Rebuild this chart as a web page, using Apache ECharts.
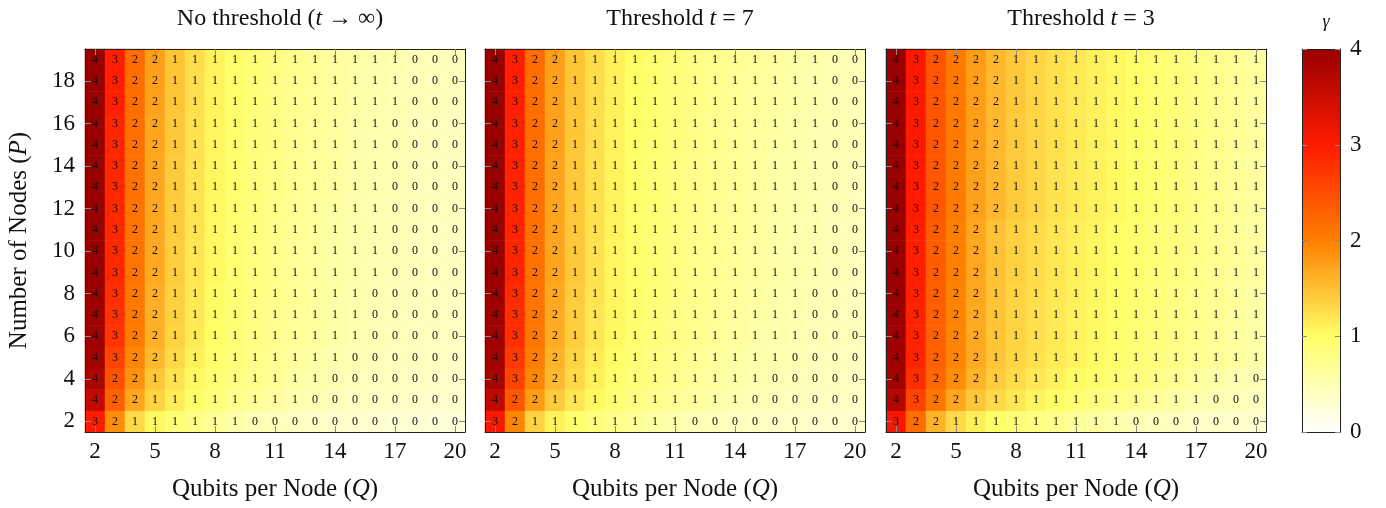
<!DOCTYPE html>
<html>
<head>
<meta charset="utf-8">
<script src="https://cdn.jsdelivr.net/npm/echarts@6/dist/echarts.min.js"></script>
<style>
    html, body { margin: 0; padding: 0; background: #fff; }
    #chart { width: 1386px; height: 508px; }
</style>
</head>
<body>
<div id="chart"></div>
<script>
// axes
const qubits = ['2','3','4','5','6','7','8','9','10','11','12','13','14','15','16','17','18','19','20']
const nodes = ['2','3','4','5','6','7','8','9','10','11','12','13','14','15','16','17','18','19']
const gammaTicks = [0, 1, 2, 3, 4]
const panelTitles = ['No threshold ({i|t} → ∞)', 'Threshold {i|t} = 7', 'Threshold {i|t} = 3']

// gamma per cell, rows from P = 2 (bottom) to P = 19 (top), columns Q = 2..20
const noThreshold = [
    [3.0, 1.9, 1.3, 1.05, 0.9, 0.78, 0.67, 0.56, 0.48, 0.44, 0.4, 0.37, 0.34, 0.32, 0.3, 0.28, 0.27, 0.26, 0.25],
    [3.6, 2.3, 1.7, 1.35, 1.14, 0.98, 0.86, 0.76, 0.68, 0.61, 0.54, 0.49, 0.45, 0.42, 0.4, 0.38, 0.36, 0.34, 0.33],
    [3.8, 2.45, 1.85, 1.45, 1.22, 1.05, 0.92, 0.82, 0.74, 0.67, 0.6, 0.54, 0.49, 0.46, 0.43, 0.41, 0.39, 0.37, 0.35],
    [3.9, 2.6, 1.95, 1.55, 1.3, 1.11, 0.97, 0.86, 0.77, 0.7, 0.64, 0.59, 0.53, 0.49, 0.46, 0.43, 0.41, 0.39, 0.37],
    [3.95, 2.75, 2.05, 1.62, 1.35, 1.16, 1.0, 0.89, 0.8, 0.73, 0.67, 0.62, 0.57, 0.52, 0.48, 0.45, 0.43, 0.41, 0.39],
    [3.96, 2.77, 2.07, 1.63, 1.36, 1.17, 1.01, 0.9, 0.81, 0.74, 0.68, 0.63, 0.58, 0.53, 0.48, 0.45, 0.43, 0.41, 0.39],
    [3.97, 2.79, 2.08, 1.64, 1.37, 1.18, 1.02, 0.91, 0.82, 0.75, 0.69, 0.64, 0.59, 0.54, 0.49, 0.46, 0.44, 0.42, 0.4],
    [4.0, 2.85, 2.12, 1.68, 1.4, 1.2, 1.04, 0.92, 0.83, 0.76, 0.69, 0.64, 0.59, 0.55, 0.51, 0.48, 0.45, 0.43, 0.41],
    [4.0, 2.85, 2.12, 1.68, 1.4, 1.2, 1.04, 0.92, 0.83, 0.76, 0.69, 0.64, 0.59, 0.55, 0.51, 0.48, 0.45, 0.43, 0.41],
    [4.0, 2.86, 2.13, 1.69, 1.41, 1.21, 1.05, 0.93, 0.84, 0.77, 0.7, 0.65, 0.6, 0.56, 0.51, 0.48, 0.45, 0.43, 0.41],
    [4.0, 2.86, 2.13, 1.69, 1.41, 1.21, 1.05, 0.93, 0.84, 0.77, 0.7, 0.65, 0.6, 0.56, 0.51, 0.48, 0.45, 0.43, 0.41],
    [4.0, 2.88, 2.15, 1.7, 1.42, 1.22, 1.06, 0.94, 0.85, 0.78, 0.71, 0.66, 0.61, 0.57, 0.52, 0.49, 0.46, 0.44, 0.42],
    [4.0, 2.88, 2.15, 1.7, 1.42, 1.22, 1.06, 0.94, 0.85, 0.78, 0.71, 0.66, 0.61, 0.57, 0.52, 0.49, 0.46, 0.44, 0.42],
    [4.0, 2.89, 2.16, 1.71, 1.43, 1.23, 1.07, 0.95, 0.86, 0.79, 0.72, 0.66, 0.61, 0.57, 0.52, 0.49, 0.46, 0.44, 0.42],
    [4.0, 2.89, 2.16, 1.71, 1.43, 1.23, 1.07, 0.95, 0.86, 0.79, 0.72, 0.66, 0.61, 0.57, 0.52, 0.49, 0.46, 0.44, 0.42],
    [4.0, 2.95, 2.2, 1.75, 1.46, 1.25, 1.09, 0.97, 0.88, 0.8, 0.73, 0.67, 0.63, 0.58, 0.55, 0.51, 0.48, 0.46, 0.44],
    [4.0, 2.95, 2.2, 1.75, 1.46, 1.25, 1.09, 0.97, 0.88, 0.8, 0.73, 0.67, 0.63, 0.58, 0.55, 0.51, 0.48, 0.46, 0.44],
    [4.0, 2.96, 2.21, 1.76, 1.46, 1.26, 1.1, 0.98, 0.88, 0.81, 0.74, 0.68, 0.63, 0.59, 0.55, 0.52, 0.48, 0.46, 0.44]
]

const threshold7 = [
    [3.05, 1.95, 1.35, 1.1, 0.95, 0.84, 0.75, 0.67, 0.6, 0.53, 0.48, 0.45, 0.42, 0.4, 0.38, 0.36, 0.34, 0.33, 0.32],
    [3.65, 2.4, 1.78, 1.42, 1.2, 1.04, 0.91, 0.81, 0.74, 0.67, 0.62, 0.57, 0.52, 0.48, 0.45, 0.43, 0.41, 0.39, 0.37],
    [3.85, 2.6, 1.95, 1.55, 1.3, 1.11, 0.97, 0.87, 0.79, 0.72, 0.66, 0.61, 0.57, 0.53, 0.49, 0.46, 0.44, 0.42, 0.4],
    [3.9, 2.7, 2.02, 1.6, 1.34, 1.15, 1.01, 0.9, 0.82, 0.75, 0.69, 0.64, 0.6, 0.56, 0.52, 0.49, 0.46, 0.44, 0.42],
    [3.95, 2.8, 2.1, 1.66, 1.39, 1.19, 1.05, 0.94, 0.86, 0.79, 0.73, 0.68, 0.63, 0.59, 0.55, 0.52, 0.48, 0.46, 0.44],
    [3.96, 2.81, 2.11, 1.67, 1.4, 1.2, 1.06, 0.95, 0.87, 0.8, 0.74, 0.69, 0.64, 0.6, 0.56, 0.52, 0.48, 0.46, 0.44],
    [3.97, 2.83, 2.12, 1.68, 1.41, 1.21, 1.07, 0.96, 0.88, 0.81, 0.75, 0.7, 0.65, 0.61, 0.57, 0.53, 0.49, 0.47, 0.45],
    [4.0, 2.9, 2.15, 1.72, 1.43, 1.23, 1.08, 0.97, 0.89, 0.82, 0.76, 0.71, 0.66, 0.62, 0.58, 0.55, 0.52, 0.48, 0.46],
    [4.0, 2.9, 2.15, 1.72, 1.43, 1.23, 1.08, 0.97, 0.89, 0.82, 0.76, 0.71, 0.66, 0.62, 0.58, 0.55, 0.52, 0.48, 0.46],
    [4.0, 2.91, 2.16, 1.72, 1.44, 1.24, 1.09, 0.98, 0.9, 0.83, 0.77, 0.72, 0.67, 0.63, 0.59, 0.55, 0.52, 0.48, 0.46],
    [4.0, 2.91, 2.16, 1.72, 1.44, 1.24, 1.09, 0.98, 0.9, 0.83, 0.77, 0.72, 0.67, 0.63, 0.59, 0.55, 0.52, 0.48, 0.46],
    [4.0, 2.92, 2.17, 1.73, 1.44, 1.24, 1.09, 0.98, 0.9, 0.83, 0.77, 0.72, 0.67, 0.63, 0.59, 0.56, 0.52, 0.49, 0.46],
    [4.0, 2.92, 2.17, 1.73, 1.44, 1.24, 1.09, 0.98, 0.9, 0.83, 0.77, 0.72, 0.67, 0.63, 0.59, 0.56, 0.52, 0.49, 0.46],
    [4.0, 2.93, 2.18, 1.74, 1.45, 1.25, 1.1, 0.99, 0.91, 0.84, 0.78, 0.73, 0.68, 0.64, 0.6, 0.56, 0.52, 0.49, 0.47],
    [4.0, 2.93, 2.18, 1.74, 1.45, 1.25, 1.1, 0.99, 0.91, 0.84, 0.78, 0.73, 0.68, 0.64, 0.6, 0.56, 0.52, 0.49, 0.47],
    [4.0, 2.95, 2.2, 1.75, 1.46, 1.26, 1.11, 1.0, 0.92, 0.85, 0.79, 0.74, 0.69, 0.65, 0.61, 0.57, 0.53, 0.49, 0.47],
    [4.0, 2.95, 2.2, 1.75, 1.46, 1.26, 1.11, 1.0, 0.92, 0.85, 0.79, 0.74, 0.69, 0.65, 0.61, 0.57, 0.53, 0.49, 0.47],
    [4.0, 2.96, 2.21, 1.76, 1.46, 1.27, 1.12, 1.01, 0.93, 0.86, 0.8, 0.75, 0.7, 0.66, 0.62, 0.58, 0.54, 0.49, 0.47]
]

const threshold3 = [
    [3.1, 2.2, 1.6, 1.3, 1.12, 1.0, 0.9, 0.82, 0.75, 0.68, 0.61, 0.54, 0.48, 0.44, 0.41, 0.38, 0.36, 0.34, 0.32],
    [3.75, 2.6, 2.1, 1.7, 1.45, 1.3, 1.18, 1.08, 1.0, 0.92, 0.85, 0.78, 0.72, 0.66, 0.6, 0.54, 0.49, 0.46, 0.43],
    [3.9, 2.8, 2.25, 1.9, 1.6, 1.4, 1.28, 1.18, 1.1, 1.03, 0.96, 0.9, 0.84, 0.78, 0.72, 0.65, 0.58, 0.52, 0.48],
    [3.95, 2.9, 2.3, 1.96, 1.67, 1.46, 1.33, 1.24, 1.16, 1.09, 1.02, 0.96, 0.9, 0.84, 0.78, 0.72, 0.67, 0.62, 0.57],
    [3.96, 2.91, 2.31, 1.97, 1.68, 1.46, 1.34, 1.25, 1.17, 1.1, 1.03, 0.97, 0.91, 0.85, 0.79, 0.73, 0.68, 0.63, 0.58],
    [3.97, 2.92, 2.32, 1.98, 1.68, 1.47, 1.34, 1.25, 1.17, 1.1, 1.04, 0.98, 0.92, 0.86, 0.8, 0.75, 0.69, 0.64, 0.59],
    [4.0, 2.94, 2.33, 1.99, 1.69, 1.47, 1.35, 1.26, 1.18, 1.11, 1.05, 0.99, 0.93, 0.87, 0.82, 0.76, 0.71, 0.65, 0.6],
    [4.0, 2.95, 2.34, 2.0, 1.7, 1.48, 1.36, 1.27, 1.19, 1.12, 1.06, 1.0, 0.94, 0.88, 0.83, 0.77, 0.72, 0.66, 0.61],
    [4.0, 2.95, 2.35, 2.0, 1.7, 1.48, 1.36, 1.27, 1.19, 1.12, 1.06, 1.0, 0.95, 0.89, 0.84, 0.78, 0.73, 0.67, 0.62],
    [4.0, 2.96, 2.35, 2.01, 1.71, 1.48, 1.37, 1.28, 1.2, 1.13, 1.07, 1.01, 0.95, 0.89, 0.84, 0.78, 0.73, 0.67, 0.62],
    [4.0, 3.0, 2.4, 2.05, 1.75, 1.56, 1.42, 1.32, 1.23, 1.16, 1.1, 1.04, 0.98, 0.92, 0.86, 0.8, 0.74, 0.68, 0.63],
    [4.0, 3.0, 2.4, 2.05, 1.75, 1.56, 1.42, 1.32, 1.23, 1.16, 1.1, 1.04, 0.98, 0.92, 0.86, 0.8, 0.74, 0.68, 0.63],
    [4.0, 3.0, 2.4, 2.05, 1.75, 1.56, 1.42, 1.32, 1.23, 1.16, 1.1, 1.04, 0.98, 0.92, 0.86, 0.8, 0.74, 0.68, 0.63],
    [4.0, 3.01, 2.41, 2.06, 1.76, 1.56, 1.42, 1.32, 1.24, 1.17, 1.1, 1.04, 0.98, 0.92, 0.86, 0.8, 0.74, 0.69, 0.63],
    [4.0, 3.01, 2.41, 2.06, 1.76, 1.56, 1.42, 1.32, 1.24, 1.17, 1.1, 1.04, 0.98, 0.92, 0.86, 0.8, 0.74, 0.69, 0.63],
    [4.0, 3.02, 2.42, 2.07, 1.77, 1.57, 1.43, 1.33, 1.24, 1.17, 1.11, 1.05, 0.99, 0.93, 0.87, 0.81, 0.75, 0.69, 0.64],
    [4.0, 3.02, 2.42, 2.07, 1.77, 1.57, 1.43, 1.33, 1.24, 1.17, 1.11, 1.05, 0.99, 0.93, 0.87, 0.81, 0.75, 0.69, 0.64],
    [4.0, 3.03, 2.43, 2.08, 1.78, 1.57, 1.43, 1.33, 1.25, 1.18, 1.11, 1.05, 0.99, 0.93, 0.87, 0.81, 0.75, 0.69, 0.64]
]

const panels = [noThreshold, threshold7, threshold3]

const FONT = '"Liberation Serif", "DejaVu Serif", serif'
const panelLeft = [85, 485, 886]
const panelWidth = 380
const plotTop = 49
const plotHeight = 383

let mycharts = echarts.init(document.getElementById('chart'))

//把每行展开成 [x, y, value]
function cells(rows) {
    let out = []
    rows.forEach((row, y) => {
        row.forEach((v, x) => out.push([x, y, v]))
    })
    return out
}

const frameLine = { show: true, onZero: false, lineStyle: { color: '#222', width: 1 } }
const innerTick = { show: true, inside: true, length: 6, lineStyle: { color: '#8a8a8a', width: 1 } }
const italic = { fontStyle: 'italic', fontFamily: FONT, fontSize: 25, color: '#111' }
const italicTitle = { fontStyle: 'italic', fontFamily: FONT, fontSize: 24, color: '#111' }
const nameStyle = { fontSize: 25, fontFamily: FONT, color: '#111', rich: { i: italic } }

let grid = []
let xAxis = []
let yAxis = []
let series = []

panels.forEach((rows, i) => {
    grid.push({ left: panelLeft[i], top: plotTop, width: panelWidth, height: plotHeight })
    //下方x轴
    xAxis.push({
        gridIndex: i, type: 'category', data: qubits, position: 'bottom', z: 10,
        axisLine: frameLine,
        axisTick: { ...innerTick, alignWithLabel: true, interval: 2 },
        axisLabel: { interval: 2, fontSize: 23, fontFamily: FONT, color: '#111', margin: 8 },
        splitLine: { show: false },
        name: 'Qubits per Node ({i|Q})', nameLocation: 'middle', nameGap: 45,
        nameTextStyle: nameStyle
    })
    //上方镜像刻度
    xAxis.push({
        gridIndex: i, type: 'category', data: qubits, position: 'top', z: 10,
        axisLine: frameLine,
        axisTick: { ...innerTick, alignWithLabel: true, interval: 2 },
        axisLabel: { show: false },
        splitLine: { show: false }
    })
    yAxis.push({
        gridIndex: i, type: 'category', data: nodes, position: 'left', z: 10,
        axisLine: frameLine,
        axisTick: { ...innerTick, alignWithLabel: true, interval: 1 },
        axisLabel: { show: i === 0, interval: 1, fontSize: 23, fontFamily: FONT, color: '#111', margin: 10 },
        splitLine: { show: false },
        name: i === 0 ? 'Number of Nodes ({i|P})' : '', nameLocation: 'middle', nameGap: 53,
        nameTextStyle: nameStyle
    })
    yAxis.push({
        gridIndex: i, type: 'category', data: nodes, position: 'right', z: 10,
        axisLine: frameLine,
        axisTick: { ...innerTick, alignWithLabel: true, interval: 1 },
        axisLabel: { show: false },
        splitLine: { show: false }
    })
    series.push({
        type: 'heatmap',
        xAxisIndex: i * 2,
        yAxisIndex: i * 2,
        data: cells(rows),
        label: {
            show: true,
            formatter: p => Math.round(p.value[2]),
            fontSize: 12,
            fontFamily: FONT,
            color: '#111'
        },
        emphasis: { disabled: true }
    })
})

//色标的坐标轴
grid.push({ left: 1302, top: plotTop, width: 38, height: plotHeight })
const hiddenX = { gridIndex: 3, type: 'value', min: 0, max: 1, z: 10, axisLine: frameLine, axisTick: { show: false }, axisLabel: { show: false }, splitLine: { show: false } }
xAxis.push({ ...hiddenX, position: 'bottom' })
xAxis.push({ ...hiddenX, position: 'top' })
yAxis.push({
    gridIndex: 3, type: 'value', min: gammaTicks[0], max: gammaTicks[gammaTicks.length - 1], interval: 1,
    position: 'right', z: 10,
    axisLine: frameLine,
    axisTick: { ...innerTick, length: 5 },
    axisLabel: { fontSize: 23, fontFamily: FONT, color: '#111', margin: 10 },
    splitLine: { show: false }
})
yAxis.push({
    gridIndex: 3, type: 'value', min: gammaTicks[0], max: gammaTicks[gammaTicks.length - 1], interval: 1,
    position: 'left', z: 10,
    axisLine: frameLine,
    axisTick: { ...innerTick, length: 5 },
    axisLabel: { show: false },
    splitLine: { show: false }
})

const titleStyle = { fontSize: 24, fontWeight: 'normal', fontFamily: FONT, color: '#111', rich: { i: italicTitle } }

mycharts.setOption({
    animation: false,
    title: panelTitles.map((t, i) => ({
        text: t, left: panelLeft[i] + panelWidth / 2, top: 2, textAlign: 'center',
        textStyle: titleStyle
    })).concat([{
        text: 'γ', left: 1321, top: 8, textAlign: 'center',
        textStyle: { fontSize: 18, fontStyle: 'italic', fontWeight: 'normal', fontFamily: FONT, color: '#111' }
    }]),
    grid: grid,
    xAxis: xAxis,
    yAxis: yAxis,
    visualMap: {
        type: 'continuous',
        min: 0,
        max: 4,
        seriesIndex: [0, 1, 2],
        orient: 'vertical',
        left: 1302,
        top: plotTop,
        padding: 0,
        itemWidth: 38,
        itemHeight: plotHeight,
        calculable: false,
        text: null,
        showLabel: false,
        inRange: { color: ['#ffffff', '#ffff66', '#ff8000', '#ff1a00', '#990000'] }
    },
    series: series
})
</script>
</body>
</html>
